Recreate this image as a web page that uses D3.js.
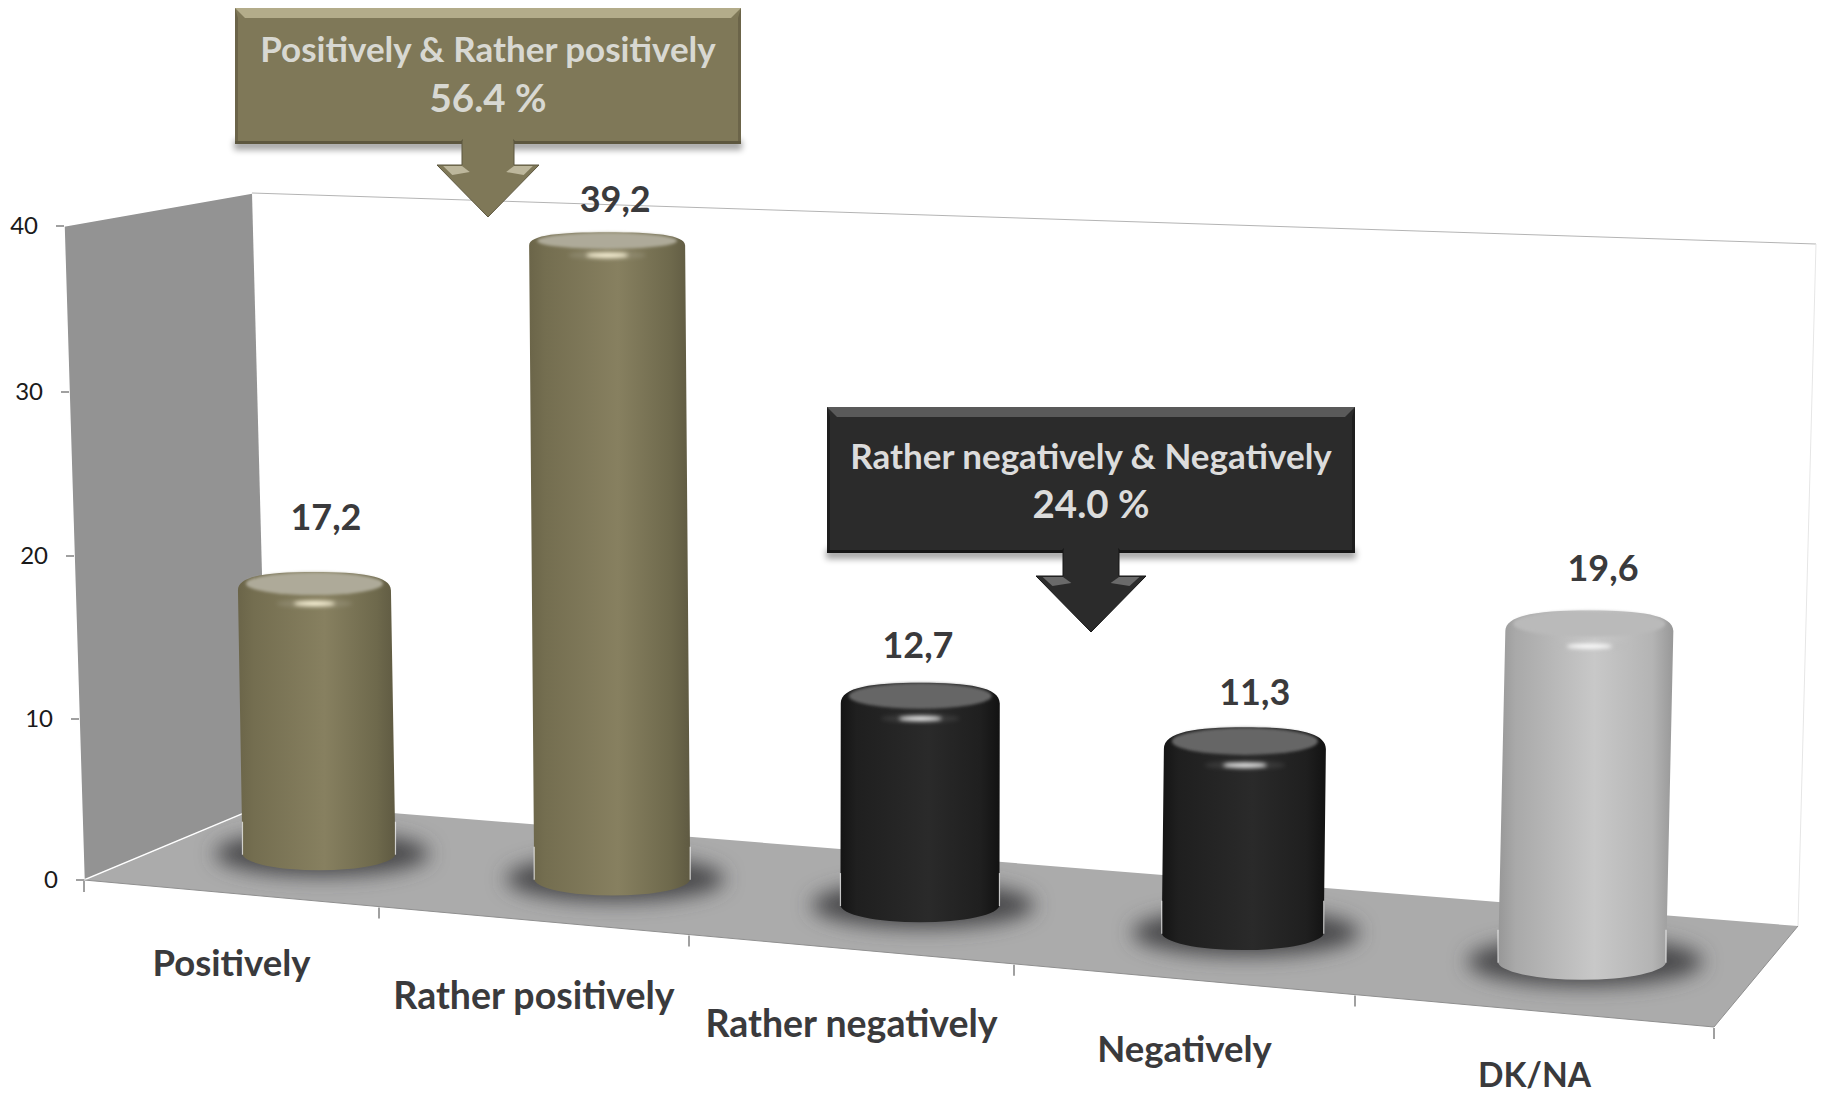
<!DOCTYPE html>
<html>
<head>
<meta charset="utf-8">
<script src="https://cdn.jsdelivr.net/npm/d3@7"></script>
<style>
  html, body { margin: 0; padding: 0; background: #fff; }
  text { font-family: Lato, "Open Sans", sans-serif; }
</style>
</head>
<body>
<div id="chart"></div>
<script>
// Chart data
const categories = ['Positively', 'Rather positively', 'Rather negatively', 'Negatively', 'DK/NA'];
const values = [17.2, 39.2, 12.7, 11.3, 19.6];
const barTones = ['olive', 'olive', 'black', 'black', 'silver'];
const yTicks = [0, 10, 20, 30, 40];
const calloutTitles = ['Positively & Rather positively', 'Rather negatively & Negatively'];
const calloutTotals = [56.4, 24.0];

const W = 1823, H = 1096;

const tones = {
  olive:  { edgeL: '#6b6549', inner: '#746e50', mid: '#878060', innerR: '#6e694c', edgeR: '#5f5a42', cap: '#aeaa99', spot: '#fff8dc' },
  black:  { edgeL: '#141414', inner: '#1f1f1f', mid: '#2a2a2a', innerR: '#1f1f1f', edgeR: '#121212', cap: '#666666', spot: '#eeeeee' },
  silver: { edgeL: '#979797', inner: '#a9a9a9', mid: '#c8c8c8', innerR: '#b4b4b4', edgeR: '#989898', cap: '#bababa', spot: '#ffffff' }
};

// The picture is a 3D chart, so the scales follow the perspective of the walls
const y = d3.scaleLinear().domain(yTicks).range([880, 719, 556, 392, 226]);
const wallX = d3.scaleLinear().domain([0, 40]).range([84, 64]);
const frontX = d3.scaleLinear().domain(d3.range(6)).range([84, 379, 689, 1014, 1355, 1714]);
const frontY = d3.scaleLinear().domain([84, 1714]).range([880, 1027]);
const backX = d3.scaleLinear().domain([84, 1714]).range([268, 1798]);
const backY = d3.scaleLinear().domain([268, 1798]).range([803, 926]);

// Bar size along the row
const barWidth = d3.scaleLinear().domain([0, 1, 2, 3, 4]).range([153, 156, 159, 162, 168]);
const pxPerUnit = d3.scaleLinear().domain([0, 1, 2, 3, 4]).range([15.46, 16.2, 16.1, 16.5, 17]);
const capFlatness = d3.scaleLinear().domain([243, 747]).range([0.073, 0.117]);
const lean = d3.scaleLinear().domain([320, 1582]).range([-0.017, 0.022]);

const svg = d3.select('#chart').append('svg')
  .attr('width', W)
  .attr('height', H)
  .style('display', 'block');

const defs = svg.append('defs');

function blur(id, dev) {
  defs.append('filter').attr('id', id)
    .attr('x', '-50%').attr('y', '-100%').attr('width', '200%').attr('height', '300%')
    .append('feGaussianBlur').attr('stdDeviation', dev);
}
blur('blurShadow', 10);
blur('blurSpot', 2.2);
blur('blurCap', 1.4);
blur('blurBox', 3);

Object.entries(tones).forEach(([key, t]) => {
  const g = defs.append('linearGradient').attr('id', 'side-' + key);
  [[0, t.edgeL], [0.1, t.inner], [0.55, t.mid], [0.88, t.innerR], [1, t.edgeR]].forEach(s => {
    g.append('stop').attr('offset', s[0]).attr('stop-color', s[1]);
  });
});

// Walls and floor
const cornerTop = [252, 193];
const cornerRightTop = [1816, 244];
const cornerBack = [backX(84), backY(backX(84))];
const cornerRight = [backX(1714), backY(backX(1714))];
const front0 = [wallX(0), y(0)];
const front1 = [frontX(5), frontY(frontX(5))];

const line = d3.line();

svg.append('path')
  .attr('d', line([cornerTop, cornerRightTop]))
  .attr('fill', 'none').attr('stroke', '#b4b4b4').attr('stroke-width', 1);
svg.append('path')
  .attr('d', line([cornerRightTop, cornerRight]))
  .attr('fill', 'none').attr('stroke', '#e6e6e6').attr('stroke-width', 1);

svg.append('path')
  .attr('d', line([[wallX(40), y(40)], cornerTop, cornerBack, front0]) + 'Z')
  .attr('fill', '#939393');
svg.append('path')
  .attr('d', line([front0, cornerBack, cornerRight, front1]) + 'Z')
  .attr('fill', '#ababab');

// light seams along the wall edges
svg.append('path')
  .attr('d', line([cornerTop, [wallX(40), y(40)], front0, cornerBack]))
  .attr('fill', 'none').attr('stroke', '#fff').attr('stroke-width', 1.5);
svg.append('path')
  .attr('d', line([front0, front1, cornerRight]))
  .attr('fill', 'none').attr('stroke', '#8f8f8f').attr('stroke-width', 1);

// Axes, moved tick by tick onto the slanted edges
const yAxis = svg.append('g')
  .call(d3.axisLeft(y).tickValues(yTicks).tickSize(8).tickPadding(18));
yAxis.select('.domain').remove();
yAxis.selectAll('.tick')
  .attr('transform', d => `translate(${wallX(d)},${y(d)})`);
yAxis.selectAll('.tick line').attr('stroke', '#808080').attr('stroke-width', 1.5);
yAxis.selectAll('.tick text')
  .attr('font-size', 24)
  .attr('fill', '#1a1a1a')
  .style('font-family', 'Lato, sans-serif');

const xAxis = svg.append('g')
  .call(d3.axisBottom(frontX).tickValues(d3.range(6)).tickSize(11).tickFormat(''));
xAxis.select('.domain').remove();
xAxis.selectAll('.tick')
  .attr('transform', d => `translate(${frontX(d)},${frontY(frontX(d)) + 1})`);
xAxis.selectAll('.tick line').attr('stroke', '#808080').attr('stroke-width', 1.5);

// Bars
const bars = values.map((v, i) => {
  const fx = frontX(i + 0.5);
  const bx = backX(fx);
  const cx = (fx + bx) / 2;
  const base = (frontY(fx) + backY(bx)) / 2;
  const top = base - v * pxPerUnit(i);
  const rx = barWidth(i) / 2;
  return {
    i, v, cx, base, top, rx,
    tone: barTones[i],
    topX: cx + (base - top) * lean(cx),
    ryTop: barWidth(i) * capFlatness(top),
    ryBase: barWidth(i) * 0.108
  };
});

const bar = svg.selectAll('.bar').data(bars).enter().append('g').attr('class', 'bar');

// dark pool on the floor
bar.append('ellipse')
  .attr('cx', d => d.cx + 3)
  .attr('cy', d => d.base)
  .attr('rx', d => d.rx * 1.4)
  .attr('ry', d => d.ryBase * 1.35)
  .attr('fill', '#48484c')
  .attr('filter', 'url(#blurShadow)');

// body with a rounded shoulder at the top
function bodyPath(d) {
  const k = 0.92 * d.ryTop;
  const l = d.topX - d.rx, r = d.topX + d.rx, t = d.top - d.ryTop;
  const sh = d.top + d.ryTop * 0.15;
  return `M${l},${sh}` +
    `C${l},${sh - k} ${d.topX - d.rx * 0.6},${t} ${d.topX},${t}` +
    `C${d.topX + d.rx * 0.6},${t} ${r},${sh - k} ${r},${sh}` +
    `L${d.cx + d.rx},${d.base}` +
    `A${d.rx},${d.ryBase} 0 0 1 ${d.cx - d.rx},${d.base}Z`;
}
bar.append('path')
  .attr('d', bodyPath)
  .attr('fill', d => `url(#side-${d.tone})`);

// thin light rim where the bar stands on the floor
[-1, 1].forEach(side => {
  bar.append('line')
    .attr('x1', d => d.cx + side * d.rx)
    .attr('x2', d => d.cx + side * d.rx)
    .attr('y1', d => d.base - 32)
    .attr('y2', d => d.base + 1)
    .attr('stroke', '#f4f4f4')
    .attr('stroke-opacity', 0.75)
    .attr('stroke-width', 1.2);
});

// the cap, inset a little from the body
bar.append('ellipse')
  .attr('cx', d => d.topX)
  .attr('cy', d => d.top - d.ryTop * 0.26)
  .attr('rx', d => d.rx - 8)
  .attr('ry', d => d.ryTop * 0.72)
  .attr('fill', d => tones[d.tone].cap)
  .attr('filter', 'url(#blurCap)');

// specular spot under the cap, soft halo plus a bright core
bar.append('ellipse')
  .attr('cx', d => d.topX)
  .attr('cy', d => d.top + d.ryTop)
  .attr('rx', d => d.rx * 0.5)
  .attr('ry', 4)
  .attr('fill', d => tones[d.tone].cap)
  .attr('opacity', 0.3)
  .attr('filter', 'url(#blurSpot)');
bar.append('ellipse')
  .attr('cx', d => d.topX)
  .attr('cy', d => d.top + d.ryTop)
  .attr('rx', d => d.rx * 0.27)
  .attr('ry', 2.5)
  .attr('fill', d => tones[d.tone].spot)
  .attr('filter', 'url(#blurSpot)');

// Value labels, sitting above each bar
const labelNudge = [[7, -55], [3, -33], [-2, -37], [12, -35], [21, -42]];
bar.append('text')
  .attr('x', d => d.cx + labelNudge[d.i][0])
  .attr('y', d => d.top - d.ryTop + labelNudge[d.i][1])
  .attr('dy', '0.35em')
  .attr('text-anchor', 'middle')
  .attr('font-size', 36)
  .attr('font-weight', 700)
  .attr('fill', '#3a3a3c')
  .text(d => String(d.v).replace('.', ','));

// Category labels, the last one sits close to the page bottom
const categoryY = [963, 996, 1024, 1049, 1075];
const categorySize = [36.5, 37.5, 37.5, 36.5, 33.5];
svg.selectAll('.cat').data(categories).enter().append('text')
  .attr('class', 'cat')
  .attr('x', (d, i) => frontX(i + 0.5))
  .attr('y', (d, i) => categoryY[i])
  .attr('dy', '0.35em')
  .attr('text-anchor', 'middle')
  .attr('font-size', (d, i) => categorySize[i])
  .attr('font-weight', 700)
  .attr('fill', '#3a3a3c')
  .text(d => d);

// Callouts
const calloutStyle = [
  { box: [235, 8, 741, 144], shaft: 26, head: 51, neck: 165, tip: 217, titleDy: 42, totalDy: 91, fill: '#7f7858', light: '#b3ac8a', dark: '#5d573f', facet: '#bdb79c', text: '#d8d8d2' },
  { box: [827, 407, 1355, 553], shaft: 28, head: 55, neck: 576, tip: 632, titleDy: 50, totalDy: 98, fill: '#2b2b2b', light: '#5a5a5a', dark: '#161616', facet: '#6a6a6a', text: '#dcdcdc' }
];

calloutTitles.forEach((title, i) => {
  const c = calloutStyle[i];
  const [x0, y0, x1, y1] = c.box;
  const mx = (x0 + x1) / 2;
  const b = 10; // bevel
  const g = svg.append('g');

  g.append('rect')
    .attr('x', x0 - 1).attr('y', y1 - 4)
    .attr('width', x1 - x0 + 2).attr('height', 10)
    .attr('fill', '#000').attr('opacity', 0.35)
    .attr('filter', 'url(#blurBox)');

  g.append('rect')
    .attr('x', x0).attr('y', y0)
    .attr('width', x1 - x0).attr('height', y1 - y0)
    .attr('fill', c.fill);
  g.append('path')
    .attr('d', line([[x0, y0], [x1, y0], [x1 - b, y0 + b], [x0 + b, y0 + b]]) + 'Z')
    .attr('fill', c.light);
  g.append('path')
    .attr('d', line([[x0, y0], [x0 + 3, y0 + b], [x0 + 3, y1 - 3], [x0, y1]]) + 'Z')
    .attr('fill', c.dark).attr('opacity', 0.6);
  g.append('path')
    .attr('d', line([[x1, y0], [x1 - 3, y0 + b], [x1 - 3, y1 - 3], [x1, y1]]) + 'Z')
    .attr('fill', c.dark).attr('opacity', 0.6);
  g.append('rect')
    .attr('x', x0).attr('y', y1 - 3)
    .attr('width', x1 - x0).attr('height', 3)
    .attr('fill', c.dark);

  // arrow below the box
  g.append('path')
    .attr('d', line([
      [mx - c.shaft, y1 - 4], [mx + c.shaft, y1 - 4], [mx + c.shaft, c.neck],
      [mx + c.head, c.neck], [mx, c.tip], [mx - c.head, c.neck], [mx - c.shaft, c.neck]
    ]) + 'Z')
    .attr('fill', c.fill)
    .attr('stroke', c.dark)
    .attr('stroke-width', 1);
  // the stroke must not cut the box, so the shaft top is painted over again
  g.append('rect')
    .attr('x', mx - c.shaft + 1).attr('y', y1 - 6)
    .attr('width', 2 * c.shaft - 2).attr('height', 8)
    .attr('fill', c.fill);
  [-1, 1].forEach(s => {
    g.append('path')
      .attr('d', line([
        [mx + s * c.head * 0.88, c.neck + 1], [mx + s * c.shaft, c.neck + 1],
        [mx + s * c.shaft * 0.7, c.neck + 7], [mx + s * c.head * 0.7, c.neck + 10]
      ]) + 'Z')
      .attr('fill', c.facet);
  });

  g.append('text')
    .attr('x', mx).attr('y', y0 + c.titleDy)
    .attr('dy', '0.35em')
    .attr('text-anchor', 'middle')
    .attr('font-size', 35)
    .attr('font-weight', 700)
    .attr('fill', c.text)
    .text(title);
  g.append('text')
    .attr('x', mx).attr('y', y0 + c.totalDy)
    .attr('dy', '0.35em')
    .attr('text-anchor', 'middle')
    .attr('font-size', 38.5)
    .attr('font-weight', 700)
    .attr('fill', c.text)
    .text(calloutTotals[i].toFixed(1) + ' %');
});
</script>
</body>
</html>
